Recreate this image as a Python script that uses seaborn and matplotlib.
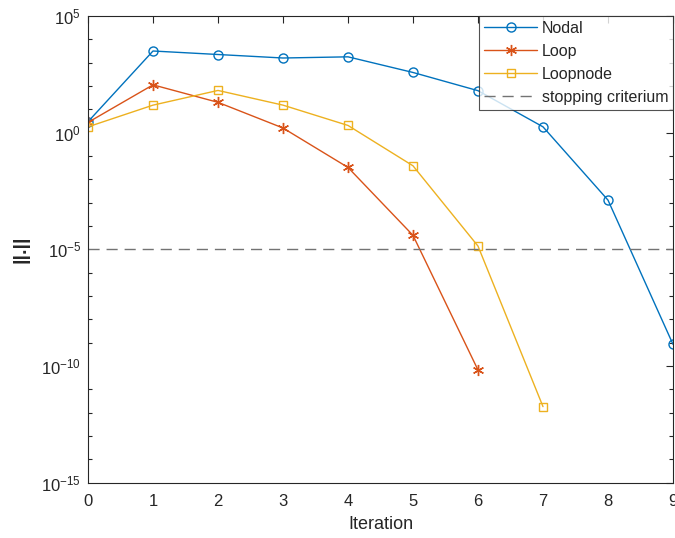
import numpy as np
import pandas as pd
import matplotlib
matplotlib.use("Agg")
import matplotlib.pyplot as plt
import seaborn as sns
from matplotlib.ticker import FixedLocator, NullFormatter

# Data (log10 of norm)
iter_nodal = [0, 1, 2, 3, 4, 5, 6, 7, 8, 9]
log_nodal = [0.47, 3.50, 3.35, 3.20, 3.25, 2.58, 1.80, 0.25, -2.89, -9.07]
iter_loop = [0, 1, 2, 3, 4, 5, 6]
log_loop = [0.44, 2.05, 1.30, 0.20, -1.49, -4.40, -10.17]
iter_loopnode = [0, 1, 2, 3, 4, 5, 6, 7]
log_loopnode = [0.25, 1.18, 1.81, 1.18, 0.31, -1.42, -4.86, -11.74]
stop_crit = 1e-5

series_names = ["Nodal", "Loop", "Loopnode"]
colors = ["#0072BD", "#D95319", "#EDB120"]
ytick_labels = ["10$^{-15}$", "10$^{-10}$", "10$^{-5}$", "10$^{0}$", "10$^{5}$"]

sns.set_style("white")
plt.rcParams['font.family'] = ['Liberation Sans', 'DejaVu Sans']
plt.rcParams['mathtext.fontset'] = 'custom'
plt.rcParams['mathtext.rm'] = 'Liberation Sans'
plt.rcParams['mathtext.it'] = 'Liberation Sans'
plt.rcParams['mathtext.default'] = 'regular'
plt.rcParams['axes.unicode_minus'] = False

fig = plt.figure(figsize=(6.75, 5.38), dpi=100)
ax = fig.add_axes([88/675, 1-482.7/538, (673-88)/675, (482.7-16)/538])

data = [(iter_nodal, log_nodal), (iter_loop, log_loop), (iter_loopnode, log_loopnode)]
markers = ['o', (6, 2, 0), 's']
msizes = [6.5, 8, 6]
for (xs, ls), name, c, m, ms in zip(data, series_names, colors, markers, msizes):
    df = pd.DataFrame({"Iteration": xs, "val": 10.0 ** np.array(ls)})
    sns.lineplot(data=df, x="Iteration", y="val", ax=ax, color=c, marker=m,
                 markersize=ms, markerfacecolor='none', markeredgecolor=c,
                 markeredgewidth=1.0, linewidth=1.0, label=name)

ax.axhline(stop_crit, color=(0.45, 0.45, 0.45), lw=1.0, ls=(0, (8, 5)),
           label="stopping criterium")

ax.set_yscale('log')
ax.set_xlim(0, 9)
ax.set_ylim(1e-15, 1e5)
ax.set_xticks(range(10))
ax.yaxis.set_major_locator(FixedLocator([1e-15, 1e-10, 1e-5, 1e0, 1e5]))
ax.yaxis.set_minor_locator(FixedLocator([10.0**k for k in range(-15, 6)]))
ax.yaxis.set_minor_formatter(NullFormatter())
ax.set_yticklabels(ytick_labels)

ax.tick_params(axis='both', which='major', direction='in', length=5, width=0.8,
               top=True, right=True, labelsize=12, colors='#262626')
ax.tick_params(axis='x', which='major', pad=8)
ax.tick_params(axis='y', which='major', pad=5)
ax.tick_params(axis='y', which='minor', direction='in', length=3, width=0.8,
               left=True, right=True)
for s in ax.spines.values():
    s.set_color('#262626')
    s.set_linewidth(0.8)

ax.set_xlabel("Iteration", fontsize=13, color='#262626', labelpad=5)
ax.set_ylabel("||.||", fontsize=14, color='#262626', fontweight='bold', labelpad=8)

leg = ax.legend(loc='upper right', fontsize=11.5, frameon=True, fancybox=False,
                edgecolor='#262626', borderaxespad=0.0, handlelength=3.3,
                borderpad=0.3, labelspacing=0.5, handletextpad=0.3)
leg.get_frame().set_linewidth(0.8)

fig.savefig("out.png", dpi=100)
